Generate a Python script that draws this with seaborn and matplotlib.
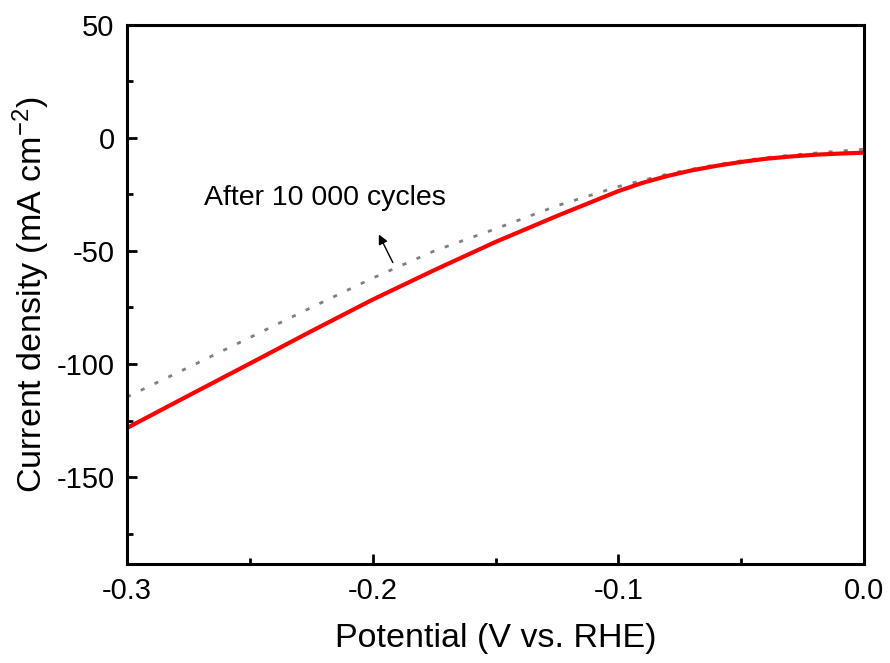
import matplotlib
matplotlib.use("Agg")
import matplotlib.pyplot as plt
from matplotlib.ticker import MultipleLocator, FormatStrFormatter
import seaborn as sns
import pandas as pd

# Data
potential_initial = [-0.30, -0.275, -0.25, -0.225, -0.20, -0.175, -0.15, -0.125, -0.10,
                     -0.09, -0.08, -0.07, -0.06, -0.05, -0.04, -0.03, -0.02, -0.01, 0.00]
current_initial = [-128.3, -114.0, -99.8, -85.5, -71.5, -58.5, -46.0, -34.5, -23.5,
                   -19.8, -16.8, -14.3, -12.3, -10.6, -9.2, -8.2, -7.4, -6.9, -6.5]

potential_after = [-0.30, -0.275, -0.25, -0.225, -0.20, -0.175, -0.15, -0.125, -0.10,
                   -0.09, -0.08, -0.07, -0.06, -0.05, -0.04, -0.03, -0.02, -0.01, 0.00]
current_after = [-114.6, -101.5, -88.3, -75.0, -62.0, -50.0, -40.2, -30.0, -21.5,
                 -18.7, -16.0, -13.8, -11.8, -10.1, -8.7, -7.6, -6.7, -5.8, -5.0]

annotation_text = "After 10 000 cycles"

sns.set_theme(style="ticks")
plt.rcParams['font.family'] = ['Liberation Sans', 'DejaVu Sans']
plt.rcParams['axes.unicode_minus'] = False
plt.rcParams['mathtext.default'] = 'regular'
plt.rcParams['text.color'] = 'black'
plt.rcParams['axes.labelcolor'] = 'black'

df_init = pd.DataFrame({"Potential": potential_initial, "Current": current_initial})
df_after = pd.DataFrame({"Potential": potential_after, "Current": current_after})

fig = plt.figure(figsize=(8.9, 6.63), dpi=100)
ax = fig.add_axes([0.1427, 0.1493, 0.9708 - 0.1427, 0.9623 - 0.1493])

sns.lineplot(data=df_after, x="Potential", y="Current", ax=ax, color="#808080",
             linewidth=2.0, linestyle=(0, (1.5, 4)), estimator=None, sort=False)
sns.lineplot(data=df_init, x="Potential", y="Current", ax=ax, color="#ff0000",
             linewidth=3.0, estimator=None, sort=False)

ax.set_xlim(-0.3, 0.0)
ax.set_ylim(-188.5, 50)
ax.xaxis.set_major_locator(MultipleLocator(0.1))
ax.xaxis.set_minor_locator(MultipleLocator(0.05))
ax.yaxis.set_major_locator(MultipleLocator(50))
ax.yaxis.set_minor_locator(MultipleLocator(25))
ax.xaxis.set_major_formatter(FormatStrFormatter('%.1f'))

for s in ax.spines.values():
    s.set_linewidth(2.2)
    s.set_color("black")
    s.set_visible(True)
ax.tick_params(which='both', direction='in', top=False, right=False, colors='black',
               labelsize=21)
ax.tick_params(which='major', length=7, width=2)
ax.tick_params(which='minor', length=4.5, width=2)
ax.tick_params(axis='x', pad=9)
ax.tick_params(axis='y', pad=9)

ax.set_xlabel("Potential (V vs. RHE)", fontsize=24.5, labelpad=13, color="black")
ax.set_ylabel("Current density (mA cm$^{-2}$)", fontsize=24.5, labelpad=3, color="black")

ax.annotate("", xy=(-0.198, -41.6), xytext=(-0.1913, -56.2),
            arrowprops=dict(arrowstyle="-|>", color="black", lw=1.0,
                            mutation_scale=14))
ax.text(-0.2194, -26.5, annotation_text, fontsize=20.5, ha="center", va="center",
        color="black")

fig.savefig("out.png", dpi=100)
